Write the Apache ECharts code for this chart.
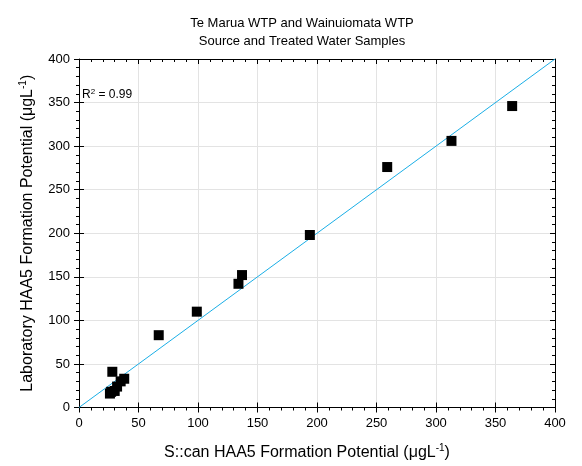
<!DOCTYPE html>
<html>
<head>
<meta charset="utf-8">
<script src="https://cdn.jsdelivr.net/npm/echarts@6/dist/echarts.min.js"></script>
<style>
  html, body { margin: 0; padding: 0; background: #fff; }
</style>
</head>
<body>
<div id="main" style="width: 582px;height:466px;"></div>
<script>
// S::can vs laboratory HAA5 values (ugL-1)
var scanValues = [28, 38, 35, 32, 30, 26, 27, 67, 99, 134, 137, 194, 259, 313, 364];
var labValues = [41, 33, 30, 24, 19, 16, 18, 83, 110, 142, 152, 198, 276, 306, 346];
var fitLine = [[0, 0], [400, 400]];
var axisTicks = [0, 50, 100, 150, 200, 250, 300, 350, 400];

var points = scanValues.map(function (x, i) { return [x, labValues[i]]; });
var font = 'Liberation Sans, Arial, sans-serif';

var chart = echarts.init(document.getElementById('main'));

// kind: 'main' (labels, outside ticks), 'mirror' (inside ticks), 'cross' (inside major ticks only)
function axis(pos, kind, name) {
  return {
    type: 'value',
    position: pos,
    min: axisTicks[0],
    max: axisTicks[axisTicks.length - 1],
    interval: 50,
    name: name || '',
    nameLocation: 'middle',
    axisLine: { show: kind !== 'cross', onZero: false, lineStyle: { color: '#000', width: 1 } },
    axisTick: { show: true, inside: kind !== 'main', length: 5, lineStyle: { color: '#000' } },
    minorTick: { show: kind !== 'cross', splitNumber: 5, length: 3, lineStyle: { color: '#000' } },
    splitLine: { show: kind === 'main', lineStyle: { color: '#e3e3e3', width: 1 } },
    axisLabel: { show: kind === 'main', color: '#000', fontSize: 13, fontFamily: font, margin: 9 }
  };
}

var nameRich = {
  mu: { fontSize: 16, fontFamily: font, color: '#000' },
  sup: { fontSize: 10, fontFamily: font, color: '#000', verticalAlign: 'top', padding: [0, 0, 9, 0] }
};

var xMain = axis('bottom', 'main', 'S::can HAA5 Formation Potential ({mu|μ}gL{sup|-1})');
xMain.nameGap = 36;
xMain.nameTextStyle = { color: '#000', fontSize: 16, fontFamily: font, padding: [0, 20, 0, 0], rich: nameRich };
var yMain = axis('left', 'main', 'Laboratory HAA5 Formation Potential ({mu|μ}gL{sup|-1})');
yMain.nameGap = 42;
yMain.nameTextStyle = { color: '#000', fontSize: 16, fontFamily: font, rich: nameRich };

chart.setOption({
  animation: false,
  backgroundColor: '#fff',
  title: {
    text: 'Te Marua WTP and Wainuiomata WTP\nSource and Treated Water Samples',
    left: 297,
    top: 9,
    textAlign: 'center',
    textStyle: { fontSize: 13, fontWeight: 'normal', color: '#000', fontFamily: font, lineHeight: 18 }
  },
  grid: { left: 79, right: 27, top: 59, bottom: 57 },
  xAxis: [xMain, axis('top', 'mirror'), axis('bottom', 'cross')],
  yAxis: [yMain, axis('right', 'mirror'), axis('left', 'cross')],
  graphic: [{
    type: 'text',
    left: 82,
    top: 88,
    style: {
      text: 'R{s|2} = 0.99',
      fill: '#000',
      font: '12px ' + font,
      rich: { s: { fontSize: 8, fontFamily: font, verticalAlign: 'top', padding: [0, 0, 6, 0] } }
    }
  }],
  series: [
    {
      type: 'line',
      data: fitLine,
      symbol: 'none',
      lineStyle: { color: '#1aaee6', width: 1 },
      z: 2
    },
    {
      type: 'scatter',
      data: points,
      symbol: 'rect',
      symbolSize: 10,
      itemStyle: { color: '#000', opacity: 1 },
      z: 3
    }
  ]
});
</script>
</body>
</html>
